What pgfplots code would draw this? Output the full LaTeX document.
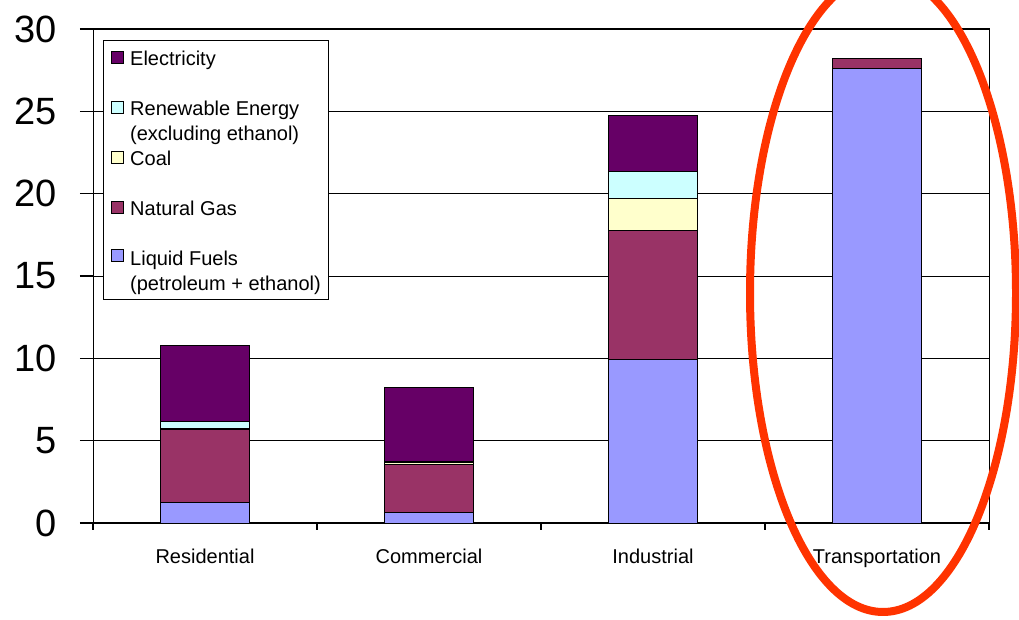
\documentclass[border=0pt]{standalone}
\usepackage{pgfplots}
\pgfplotsset{compat=1.18}
\usepackage{fontspec}
\setmainfont{Liberation Sans}

\definecolor{liquid}{HTML}{9999FF}
\definecolor{natgas}{HTML}{993366}
\definecolor{coal}{HTML}{FFFFCC}
\definecolor{renew}{HTML}{CCFFFF}
\definecolor{elec}{HTML}{660066}
\definecolor{ellred}{HTML}{FF3300}

\pgfplotsset{
  sq legend/.style={legend image code/.code={
      \draw[##1, draw=black, line width=0.8bp] (0bp,8.5bp) rectangle (12bp,20.5bp);}},
}

\begin{document}
\begin{tikzpicture}[x=1bp,y=1bp]
\useasboundingbox (0,0) rectangle (1019,620);
\begin{axis}[
    at={(93bp,97bp)}, anchor=south west,
    scale only axis, width=896bp, height=494bp,
    xmin=0, xmax=4, ymin=0, ymax=30,
    ybar stacked, bar width=89.5bp,
    xtick={0.5,1.5,2.5,3.5},
    xticklabels={Residential,Commercial,Industrial,Transportation},
    major x tick style={draw=none},
    minor xtick={0,1,2,3,4},
    ytick={0,5,...,30},
    ymajorgrids,
    major grid style={black, line width=0.8bp},
    tick align=outside, xtick pos=bottom, ytick pos=left,
    major tick length=13bp, minor tick length=7bp,
    tick style={black, line width=1.2bp},
    axis line style={black, line width=1bp},
    /pgf/number format/assume math mode=true,
    yticklabel style={font=\fontsize{38bp}{40bp}\selectfont, inner xsep=0pt, xshift=-23bp},
    xticklabel style={font=\fontsize{20bp}{22bp}\selectfont, yshift=-9bp},
    reverse legend,
    legend cell align=left,
    legend style={at={(axis description cs:0.01116,0.9777)}, anchor=north west,
      draw=black, line width=0.8bp, inner xsep=8bp, inner ysep=6.5bp,
      column sep=6bp, row sep=0pt,
      font=\fontsize{20bp}{25bp}\selectfont,
      nodes={inner sep=0pt, text height=19bp, text depth=31bp}},
]
\addplot[fill=liquid, draw=black, line width=0.8bp, sq legend]
  coordinates {(0.5,1.26)(1.5,0.65)(2.5,9.94)(3.5,27.6)};
\addlegendentry[text depth=27bp]{\smash{\begin{tabular}[t]{@{}l@{}}Liquid Fuels\\(petroleum + ethanol)\end{tabular}}}
\addplot[fill=natgas, draw=black, line width=0.8bp, sq legend]
  coordinates {(0.5,4.42)(1.5,2.91)(2.5,7.81)(3.5,0.61)};
\addlegendentry{Natural Gas}
\addplot[fill=coal, draw=black, line width=0.8bp, sq legend]
  coordinates {(0.5,0.05)(1.5,0.1)(2.5,1.96)(3.5,0)};
\addlegendentry{Coal}
\addplot[fill=renew, draw=black, line width=0.8bp, sq legend]
  coordinates {(0.5,0.42)(1.5,0.1)(2.5,1.62)(3.5,0)};
\addlegendentry{\smash{\begin{tabular}[t]{@{}l@{}}Renewable Energy\\(excluding ethanol)\end{tabular}}}
\addplot[fill=elec, draw=black, line width=0.8bp, sq legend]
  coordinates {(0.5,4.64)(1.5,4.46)(2.5,3.44)(3.5,0)};
\addlegendentry{Electricity}
\end{axis}
\draw[line width=8bp, draw=ellred] (883,327) ellipse [x radius=133, y radius=319];
\end{tikzpicture}
\end{document}
